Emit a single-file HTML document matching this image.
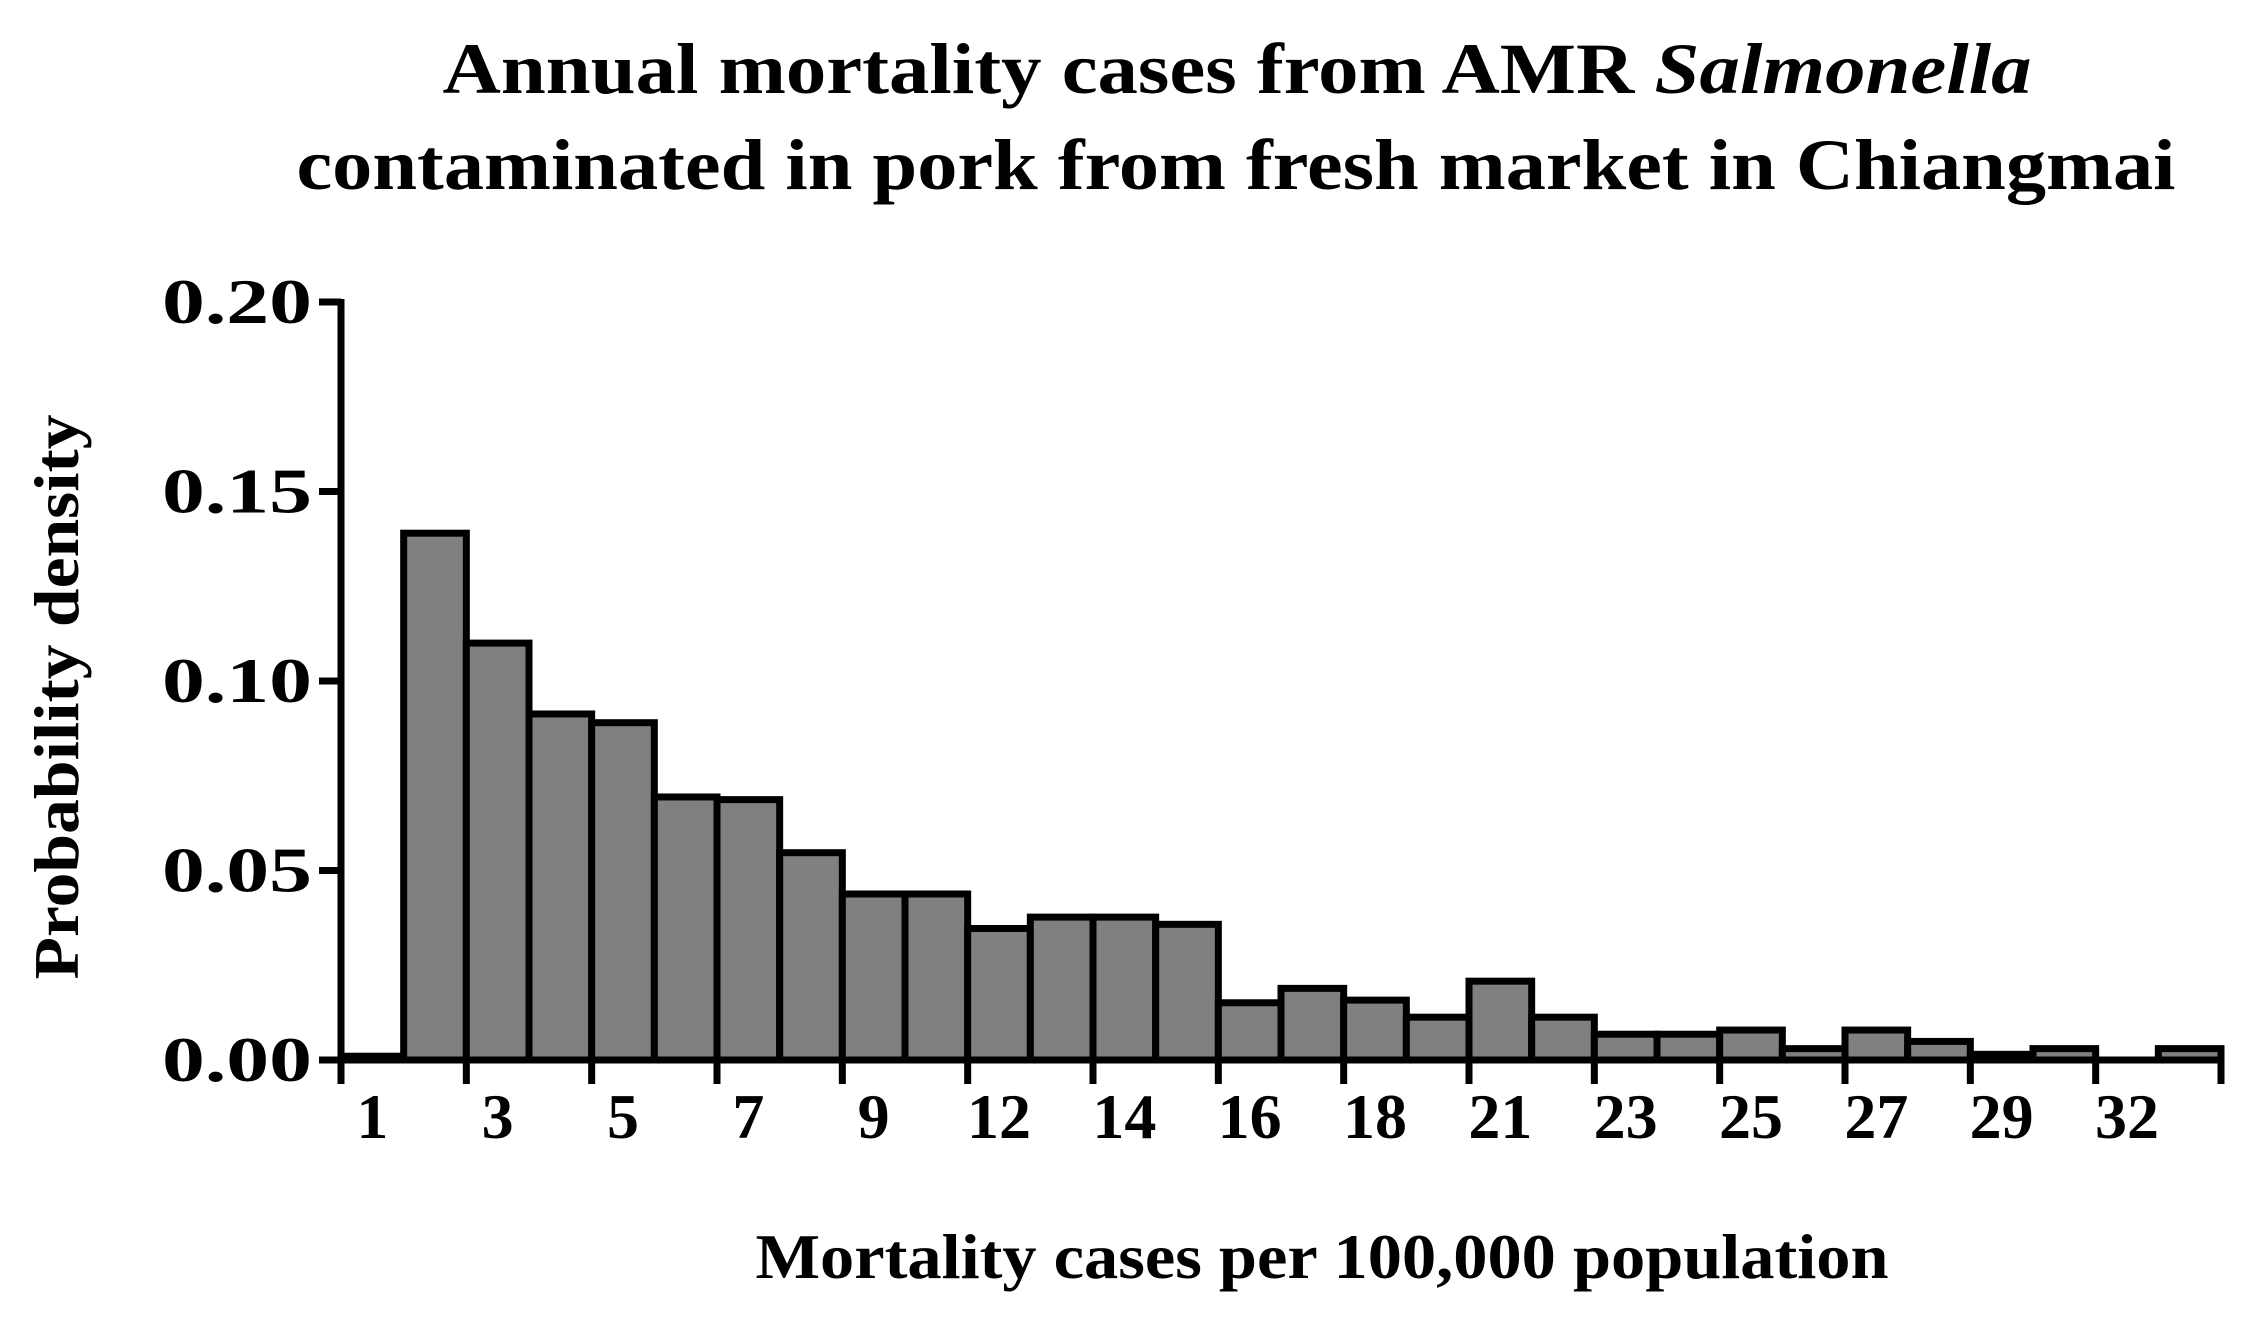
<!DOCTYPE html>
<html><head><meta charset="utf-8"><style>
html,body{margin:0;padding:0;background:#fff;}
svg{display:block;font-family:"Liberation Serif",serif;font-weight:bold;}
</style></head><body>
<svg id="chart" width="2244" height="1320" viewBox="0 0 2244 1320" xmlns="http://www.w3.org/2000/svg">
<text x="1237" y="93" font-size="72" text-anchor="middle" textLength="1589" lengthAdjust="spacingAndGlyphs">Annual mortality cases from AMR <tspan font-style="italic">Salmonella</tspan></text>
<text x="1236" y="189" font-size="72" text-anchor="middle" textLength="1879" lengthAdjust="spacingAndGlyphs">contaminated in pork from fresh market in Chiangmai</text>
<text transform="translate(78,697) rotate(-90)" font-size="64" text-anchor="middle" textLength="565" lengthAdjust="spacingAndGlyphs">Probability density</text>
<text x="1322" y="1278" font-size="64" text-anchor="middle" textLength="1133" lengthAdjust="spacingAndGlyphs">Mortality cases per 100,000 population</text>
<g id="bars"></g>
<g id="axes"></g>
</svg>
<script>
const binValues=[0.001,0.139,0.110,0.0913,0.089,0.0694,0.0687,0.0547,0.0438,0.0438,0.0347,0.0377,0.0377,0.0358,0.0151,0.0189,0.0158,0.0113,0.0208,0.0113,0.0068,0.0068,0.0079,0.003,0.0079,0.0049,0.0015,0.003,0,0.003];
const xTickLabels=["1","3","5","7","9","12","14","16","18","21","23","25","27","29","32"];
const yTicks=[0,0.05,0.10,0.15,0.20];
const NS="http://www.w3.org/2000/svg";
const x0=341,x1=2221,yBase=1060,yTop=302;
const nb=binValues.length;
const bw=(x1-x0)/nb;
function xs(i){return x0+i*bw;}
function ys(v){return yBase-(v/0.20)*(yBase-yTop);}
const bars=document.getElementById('bars'),axes=document.getElementById('axes');
function mk(tag,attrs,parent){const e=document.createElementNS(NS,tag);for(const k in attrs)e.setAttribute(k,attrs[k]);parent.appendChild(e);return e;}
binValues.forEach((v,i)=>{
  const r=mk('rect',{x:xs(i),y:ys(v),width:bw,height:yBase-ys(v),fill:'#808080',stroke:'#000','stroke-width':7},bars);
  
  
});
const ya=mk('line',{x1:x0,y1:yTop-3,x2:x0,y2:yBase+3,stroke:'#000','stroke-width':7},axes);


const xa=mk('line',{x1:x0-3,y1:yBase,x2:x1+3,y2:yBase,stroke:'#000','stroke-width':7},axes);


yTicks.forEach(t=>{
  const y=ys(t);
  const l=mk('line',{x1:x0-22,y1:y,x2:x0,y2:y,stroke:'#000','stroke-width':7},axes);
  
  
  const tx=mk('text',{x:312,y:y+21,'font-size':64,'text-anchor':'end',textLength:150,lengthAdjust:'spacingAndGlyphs'},axes);
  tx.textContent=t.toFixed(2);
  
  
});
for(let i=0;i<=nb;i+=2){
  const l=mk('line',{x1:xs(i),y1:yBase,x2:xs(i),y2:yBase+24,stroke:'#000','stroke-width':7},axes);
  
  
}
xTickLabels.forEach((s,k)=>{
  const tx=mk('text',{x:xs(2*k)+bw/2,y:1138,'font-size':64,'text-anchor':'middle'},axes);
  tx.textContent=s;
  
  
});
</script>
</body></html>
